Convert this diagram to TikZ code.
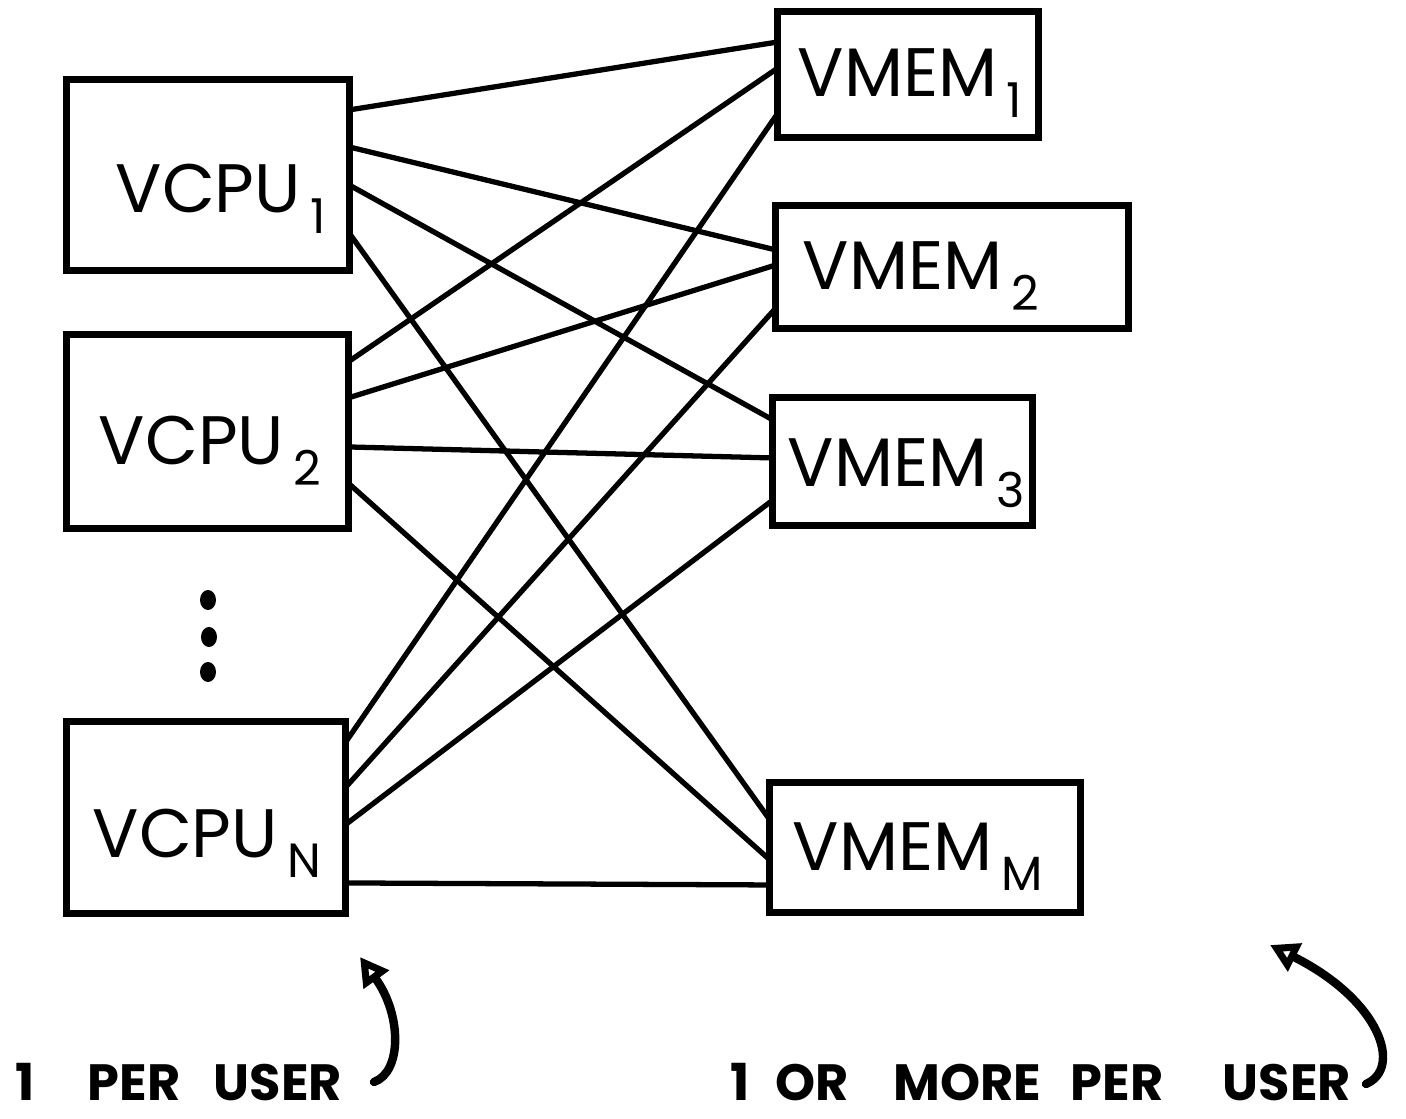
\documentclass[tikz,border=0pt]{standalone}
\usepackage{fontspec}
\setmainfont{Poppins}
\usetikzlibrary{calc,arrows.meta}
% lowered, reduced index after a name (VCPU_1, VMEM_M ...)
\newcommand\idx[1]{\hspace{0.14em}\raisebox{-0.3em}{\scalebox{0.7}{#1}}}
% connector from a point on the right side of one box to the left side of another
\newcommand\link[4]{\draw[wire] ($(#1.north east)+(0,#2)$) -- ($(#3.north west)+(0,#4)$);}
\begin{document}
\begin{tikzpicture}[x=0.01cm,y=-0.01cm,
  box/.style={draw,line width=2pt,inner sep=0pt,outer sep=0pt},
  wire/.style={line width=1.5pt},
  lbl/.style={anchor=base west,inner sep=0pt,font=\fontsize{19.5}{20}\selectfont},
  note/.style={anchor=base west,inner sep=0pt,font=\fontsize{14.5}{15}\selectfont\bfseries},
  pointer/.style={line width=2.4pt,line cap=round,-{Triangle[open,length=0.28cm,width=0.3cm]}},
]
\useasboundingbox (0,0) rectangle (1406,1119);

% virtual CPUs
\node[box,minimum width=2.82cm,minimum height=1.90cm] (vcpu1) at (208,175) {};
\node[box,minimum width=2.81cm,minimum height=1.93cm] (vcpu2) at (207.5,431.5) {};
\node[box,minimum width=2.78cm,minimum height=1.91cm] (vcpun) at (206,817.5) {};

% virtual memories
\node[box,minimum width=2.60cm,minimum height=1.25cm] (vmem1) at (908,74.5) {};
\node[box,minimum width=3.52cm,minimum height=1.22cm] (vmem2) at (952,267) {};
\node[box,minimum width=2.59cm,minimum height=1.27cm] (vmem3) at (902.5,461.5) {};
\node[box,minimum width=3.10cm,minimum height=1.29cm] (vmemm) at (925,847.5) {};

% box labels
\node[lbl] (t-vcpu1) at (115,213) {VCPU\idx{1}};
\node[lbl] (t-vcpu2) at (98,465) {VCPU\idx{2}};
\node[lbl] (t-vcpun) at (92,857) {VCPU\idx{N}};
\node[lbl] (t-vmem1) at (797,97) {VMEM\idx{1}};
\node[lbl] (t-vmem2) at (802,290) {VMEM\idx{2}};
\node[lbl] (t-vmem3) at (787,487) {VMEM\idx{3}};
\node[lbl] (t-vmemm) at (792,870) {VMEM\idx{M}};

% vertical ellipsis between VCPU_2 and VCPU_N
\fill (208,600) ellipse [x radius=0.08cm, y radius=0.10cm];
\fill (209,637) ellipse [x radius=0.08cm, y radius=0.10cm];
\fill (208,672) ellipse [x radius=0.08cm, y radius=0.10cm];

% every CPU is wired to every memory
\link{vcpu1}{30}{vmem1}{30}
\link{vcpu1}{67}{vmem2}{44}
\link{vcpu1}{105}{vmem3}{22}
\link{vcpu1}{153}{vmemm}{37}
\link{vcpu2}{27}{vmem1}{56}
\link{vcpu2}{63}{vmem2}{59}
\link{vcpu2}{112}{vmem3}{60}
\link{vcpu2}{148}{vmemm}{77}
\link{vcpun}{21}{vmem1}{101}
\link{vcpun}{66}{vmem2}{102}
\link{vcpun}{103}{vmem3}{102}
\link{vcpun}{161}{vmemm}{102}

% notes with curved pointers
\node[note] (n-cpu) at (15,1100)
  {\makebox[0.72cm][l]{1 }\makebox[1.26cm][l]{PER }USER};
\node[note] (n-mem) at (730,1100)
  {\makebox[0.45cm][l]{1 }\makebox[1.18cm][l]{OR }\makebox[1.77cm][l]{MORE }\makebox[1.52cm][l]{PER }USER};

\coordinate (p1tail) at (374,1082);
\coordinate (p1tip)  at (360,957);
\coordinate (p2tail) at (1366,1084);
\coordinate (p2tip)  at (1270,945);
\draw[pointer] (p1tail) .. controls (402,1072) and (402,1015) .. (p1tip);
\draw[pointer] (p2tail) .. controls (1403,1068) and (1380,1000) .. (p2tip);
\end{tikzpicture}
\end{document}
